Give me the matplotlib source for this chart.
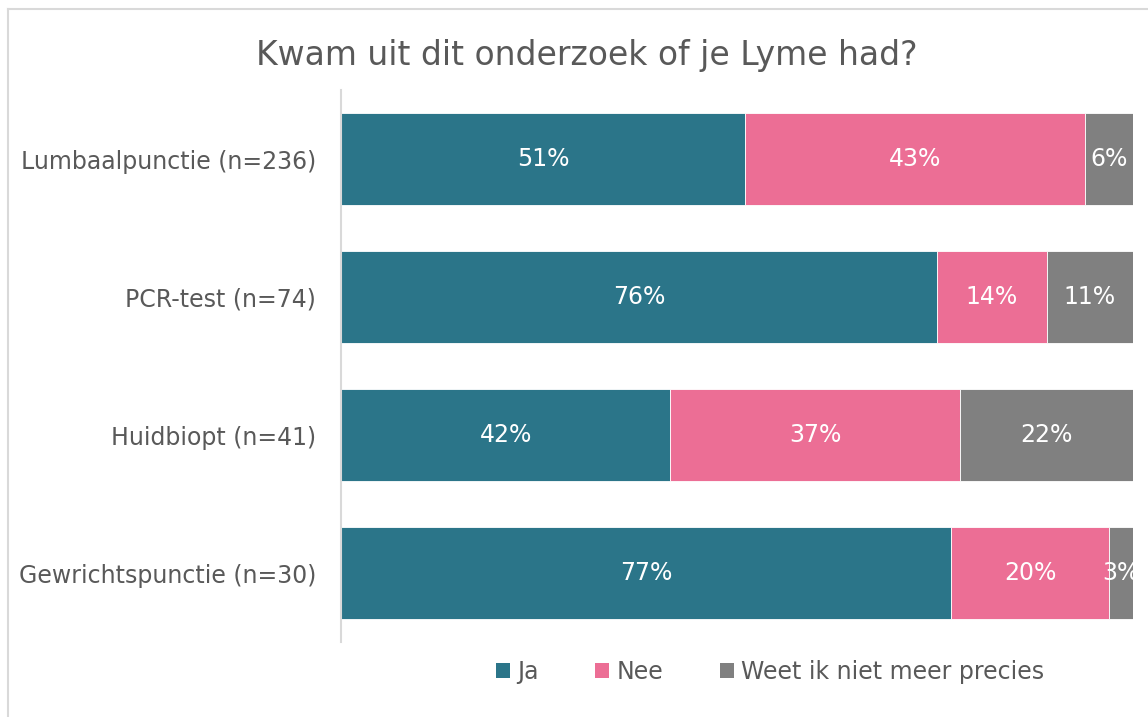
import numpy as np
import matplotlib
matplotlib.use("Agg")
import matplotlib.pyplot as plt
from matplotlib.lines import Line2D
from matplotlib.patches import Patch

# ── data (percentages as shown on the bars)
categories = ["Lumbaalpunctie (n=236)", "PCR-test (n=74)",
              "Huidbiopt (n=41)", "Gewrichtspunctie (n=30)"]
series = ["Ja", "Nee", "Weet ik niet meer precies"]
ja = [51, 76, 42, 77]
nee = [43, 14, 37, 20]
weet = [6, 11, 22, 3]

colors = ["#2B7589", "#EC6E95", "#808080"]
TEXT = "#595959"
GRID = "#D9D9D9"

W, H, DPI = 1148, 717, 100
fig = plt.figure(figsize=(W / DPI, H / DPI), dpi=DPI, facecolor="white")
plt.rcParams["font.family"] = "DejaVu Sans"

ax = fig.add_axes([341 / W, 1 - 642 / H, (1133 - 341) / W, (642 - 90) / H])

vals = np.array([ja, nee, weet], dtype=float)
shares = vals / vals.sum(axis=0)   # 100% stacked, Excel style
y = np.arange(len(categories))
left = np.zeros(len(categories))
for i, name in enumerate(series):
    bars = ax.barh(y, shares[i], left=left, height=0.667, color=colors[i],
                   label=name, edgecolor="white", linewidth=0.6)
    for b, v, s in zip(bars, vals[i], shares[i]):
        ax.text(b.get_x() + s / 2, b.get_y() + b.get_height() / 2,
                f"{int(v)}%", ha="center", va="center", color="white",
                fontsize=17, clip_on=True)
    left += shares[i]

ax.set_xlim(0, 1)
ax.set_ylim(len(categories) - 0.5, -0.5)
ax.set_yticks(y)
ax.set_yticklabels(categories, fontsize=17, color=TEXT)
ax.tick_params(axis="y", length=0, pad=18)
ax.set_xticks([])
for side in ["top", "right", "bottom"]:
    ax.spines[side].set_visible(False)
ax.spines["left"].set_color(GRID)
ax.spines["left"].set_linewidth(1.5)

fig.text(587 / W, 1 - 55 / H, "Kwam uit dit onderzoek of je Lyme had?",
         ha="center", va="center", fontsize=23.8, color=TEXT)

handles = [Patch(facecolor=c, edgecolor="none") for c in colors]
fig.legend(handles, series, loc="center", bbox_to_anchor=(770 / W, 1 - 672 / H),
           ncol=3, frameon=False, fontsize=17, labelcolor=TEXT,
           handlelength=0.6, handleheight=0.6, handletextpad=0.3,
           columnspacing=2.4)

# chart border (light grey, cut off at right and bottom)
fig.add_artist(Line2D([8 / W, 8 / W], [0, 1 - 9 / H], transform=fig.transFigure,
                      color=GRID, lw=1.5))
fig.add_artist(Line2D([8 / W, 1], [1 - 9 / H, 1 - 9 / H], transform=fig.transFigure,
                      color=GRID, lw=1.5))

fig.savefig("out.png", dpi=DPI, facecolor="white")
